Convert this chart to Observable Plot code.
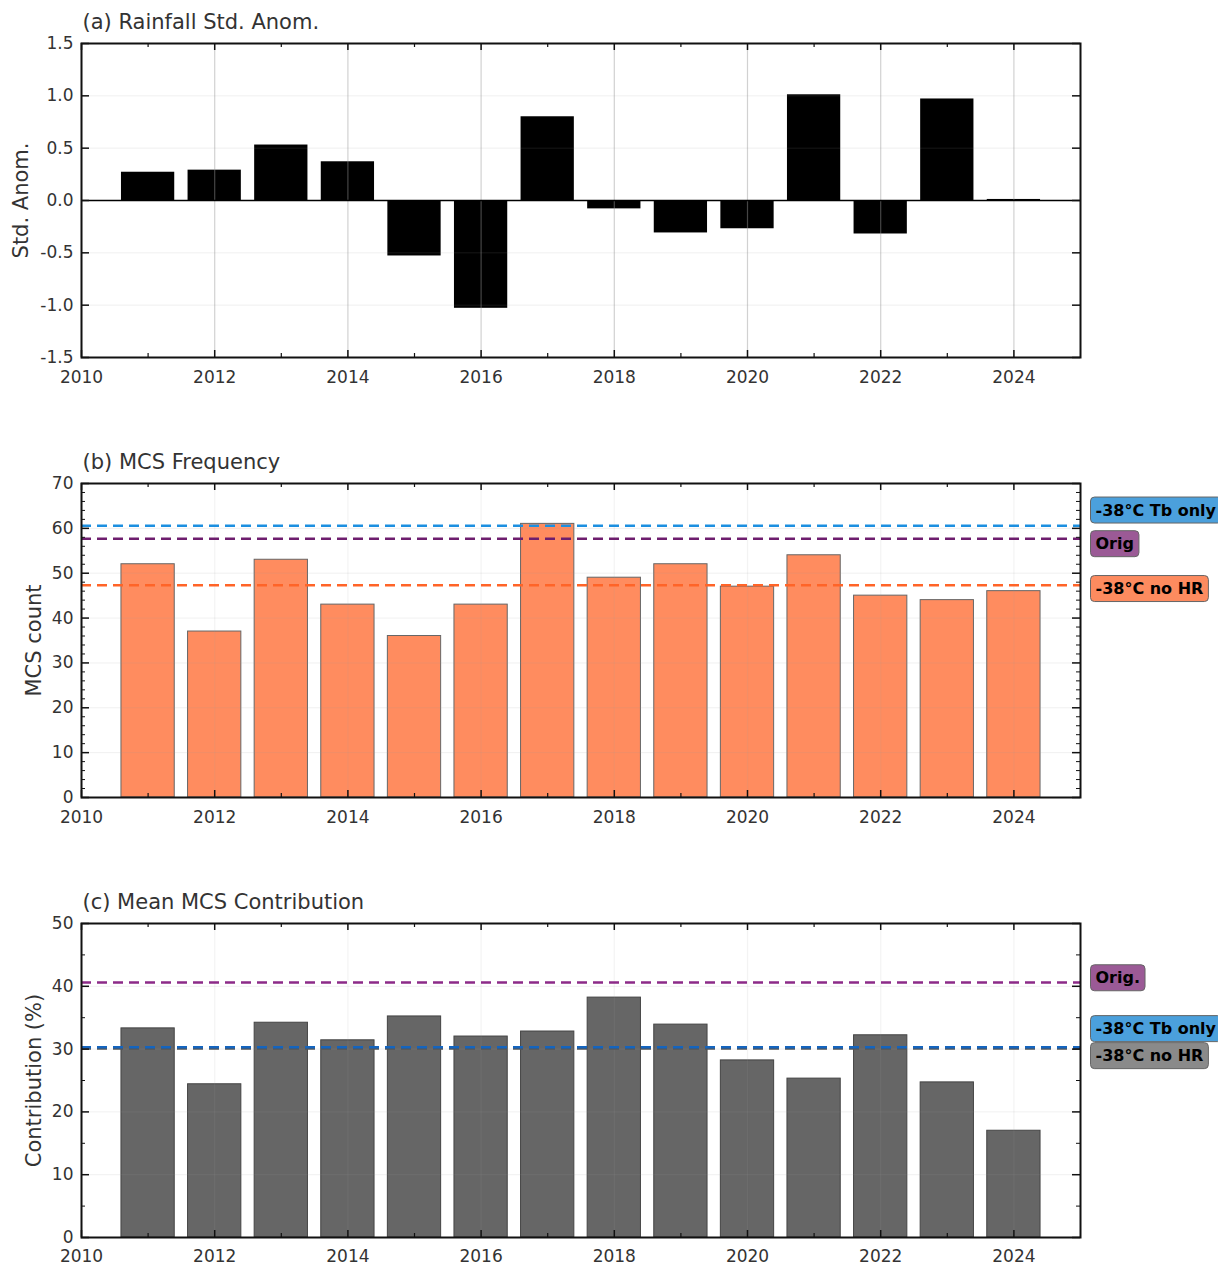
<!DOCTYPE html>
<html><head><meta charset="utf-8">
<script src="https://cdn.jsdelivr.net/npm/d3@7"></script>
<script src="https://cdn.jsdelivr.net/npm/@observablehq/plot@0.6"></script>
<style>
body{margin:0;background:#fff;font-family:"DejaVu Sans",sans-serif;}
#chart{width:1218px;}
svg{display:block}
</style></head><body><div id="chart"></div>
<script>
// ---- data ----
const years = [2011,2012,2013,2014,2015,2016,2017,2018,2019,2020,2021,2022,2023,2024];
const rainfallAnom = [0.27,0.29,0.53,0.37,-0.53,-1.03,0.80,-0.08,-0.31,-0.27,1.01,-0.32,0.97,0.01];
const mcsCount = [52,37,53,43,36,43,61,49,52,47,54,45,44,46];
const mcsContribution = [33.3,24.4,34.2,31.4,35.2,32.0,32.8,38.2,33.9,28.2,25.3,32.2,24.7,17.0];

const freqRefNames = ["-38°C Tb only","Orig","-38°C no HR"];
const freqRefValues = [60.6,57.7,47.3];
const freqRefColors = ["#1c8fe0","#6e1e6e","#ff6428"];
const freqLabelY = [64.0,56.5,46.5];
const freqBoxColors = ["#4ba0dc","#9b5a96","#fd8b5f"];

const contribRefNames = ["-38°C no HR","-38°C Tb only","Orig."];
const contribRefValues = [30.1,30.3,40.6];
const contribRefColors = ["#555555","#1464be","#8c2a88"];
const contribLabelY = [28.9,33.2,41.3];
const contribBoxColors = ["#8a8a8a","#4ba0dc","#9b5a96"];

const xTicks = [2010,2012,2014,2016,2018,2020,2022,2024];
const xMinorTicks = [2011,2013,2015,2017,2019,2021,2023];

// ---- layout ----
const W = 1218, ML = 81, MR = 138, MT = 43, PH = 314;
const PW = W - ML - MR;

const rows = (vals) => years.map((y,i) => ({year: y, value: vals[i]}));
const refs = (names, vals, colors, ly, box) => names.map((n,i) => ({name:n, value: vals[i], color: colors[i], ly: ly[i], box: box[i]}));

function panel({title, ylabel, ylabelDx, yDomain, yMajor, yMinor, yFormat, height, marks, vGrid, xPad = 13}) {
  const mb = height - MT - PH;
  const tickStroke = "#111";
  return Plot.plot({
    width: W, height, marginLeft: ML, marginRight: MR, marginTop: MT, marginBottom: mb,
    style: {fontFamily: "DejaVu Sans", fontSize: "17px", color: "#333", background: "white", overflow: "visible"},
    x: {domain: [2010, 2025]},
    y: {domain: yDomain},
    marks: [
      ...marks.under,
      Plot.gridX(xTicks, {stroke: "#999", strokeOpacity: vGrid, strokeWidth: 1.2}),
      Plot.gridY(yMajor, {stroke: "#999", strokeOpacity: 0.15}),
      ...marks.over,
      Plot.tickY(yMajor, {y: d => d, insetRight: PW - 8, stroke: tickStroke, strokeWidth: 1.5}),
      Plot.tickY(yMajor, {y: d => d, insetLeft: PW - 8, stroke: tickStroke, strokeWidth: 1.5}),
      Plot.tickY(yMinor, {y: d => d, insetRight: PW - 4, stroke: tickStroke, strokeWidth: 1}),
      Plot.tickY(yMinor, {y: d => d, insetLeft: PW - 4, stroke: tickStroke, strokeWidth: 1}),
      Plot.tickX(xTicks, {x: d => d, insetTop: PH - 7, stroke: tickStroke, strokeWidth: 1.5}),
      Plot.tickX(xTicks, {x: d => d, insetBottom: PH - 7, stroke: tickStroke, strokeWidth: 1.5}),
      Plot.tickX(xMinorTicks, {x: d => d, insetTop: PH - 4, stroke: tickStroke, strokeWidth: 1.2}),
      Plot.tickX(xMinorTicks, {x: d => d, insetBottom: PH - 4, stroke: tickStroke, strokeWidth: 1.2}),
      Plot.axisX(xTicks, {tickSize: 0, tickPadding: xPad, tickFormat: d => String(d), fontSize: 17, label: null, fill: "#333"}),
      Plot.axisY(yMajor, {tickSize: 0, tickPadding: 8, tickFormat: yFormat, fontSize: 17, label: null, fill: "#333"}),
      Plot.frame({stroke: "#111", strokeWidth: 2}),
      Plot.text([title], {text: d => d, frameAnchor: "top-left", dx: 1, dy: -21, textAnchor: "start", lineAnchor: "middle", fontSize: 21, fill: "#333"}),
      Plot.text([ylabel], {text: d => d, frameAnchor: "left", rotate: -90, dx: ylabelDx, fontSize: 21, fill: "#333", lineAnchor: "middle", textAnchor: "middle"}),
      ...(marks.labels || [])
    ]
  });
}

function refLabels(data) {
  return Plot.text(data, {frameAnchor: "right", y: "ly", text: "name", dx: 15, textAnchor: "start", lineAnchor: "middle",
    fontWeight: "bold", fontSize: 16, fill: "black"});
}

function addBoxes(svg, data) {
  const ns = "http://www.w3.org/2000/svg";
  const byName = new Map(data.map(d => [d.name, d]));
  const texts = Array.from(svg.querySelectorAll("text")).filter(t => byName.has(t.textContent.trim()));
  texts.forEach((t) => {
    const d = byName.get(t.textContent.trim());
    const b = t.getBBox();
    const r = document.createElementNS(ns, "rect");
    r.setAttribute("x", b.x - 5);
    r.setAttribute("y", b.y - 3.5);
    r.setAttribute("width", b.width + 10);
    r.setAttribute("height", b.height + 7);
    r.setAttribute("rx", 4);
    r.setAttribute("fill", d.box);
    r.setAttribute("stroke", "#666");
    r.setAttribute("stroke-width", 1);
    const tr = t.getAttribute("transform");
    if (tr) r.setAttribute("transform", tr);
    t.parentNode.insertBefore(r, t);
  });
}

const chart = document.getElementById("chart");

// (a)
const rainData = rows(rainfallAnom);
const svgA = panel({
  title: "(a) Rainfall Std. Anom.", ylabel: "Std. Anom.", ylabelDx: -60,
  yDomain: [-1.5, 1.5], yMajor: [-1.5,-1.0,-0.5,0,0.5,1.0,1.5], yMinor: [],
  yFormat: d => d.toFixed(1), height: 440, vGrid: 0.45,
  marks: {
    under: [
      Plot.rectY(rainData, {x1: d => d.year - 0.4, x2: d => d.year + 0.4, y1: 0, y2: "value", fill: "black"}),
    ],
    over: [Plot.ruleY([0], {stroke: "black", strokeWidth: 1.5})]
  }
});
chart.appendChild(svgA);

// (b)
const countData = rows(mcsCount);
const freqRefs = refs(freqRefNames, freqRefValues, freqRefColors, freqLabelY, freqBoxColors);
const svgB = panel({
  title: "(b) MCS Frequency", ylabel: "MCS count", ylabelDx: -47,
  yDomain: [0, 70], yMajor: d3.range(0, 71, 10), yMinor: d3.range(0, 71, 2).filter(d => d % 10 !== 0),
  yFormat: d => String(d), height: 440, vGrid: 0.12,
  marks: {
    under: [
      Plot.rectY(countData, {x1: d => d.year - 0.4, x2: d => d.year + 0.4, y1: 0, y2: "value", fill: "#ff8c5f", stroke: "#666", strokeWidth: 1}),
    ],
    over: [
      Plot.ruleY(freqRefs, {y: "value", stroke: "color", strokeWidth: 2.5, strokeDasharray: "10,6"})
    ],
    labels: [refLabels(freqRefs)]
  }
});
chart.appendChild(svgB);
addBoxes(svgB, freqRefs);

// (c)
const contribData = rows(mcsContribution);
const contribRefs = refs(contribRefNames, contribRefValues, contribRefColors, contribLabelY, contribBoxColors);
const svgC = panel({
  title: "(c) Mean MCS Contribution", ylabel: "Contribution (%)", ylabelDx: -47,
  yDomain: [0, 50], yMajor: d3.range(0, 51, 10), yMinor: [5,15,25,35,45],
  yFormat: d => String(d), height: 384, vGrid: 0.12, xPad: 12,
  marks: {
    under: [
      Plot.rectY(contribData, {x1: d => d.year - 0.4, x2: d => d.year + 0.4, y1: 0, y2: "value", fill: "#666666", stroke: "#444", strokeWidth: 1}),
    ],
    over: [
      Plot.ruleY(contribRefs, {y: "value", stroke: "color", strokeWidth: 2.5, strokeDasharray: "10,6"})
    ],
    labels: [refLabels(contribRefs)]
  }
});
chart.appendChild(svgC);
addBoxes(svgC, contribRefs);
</script></body></html>
